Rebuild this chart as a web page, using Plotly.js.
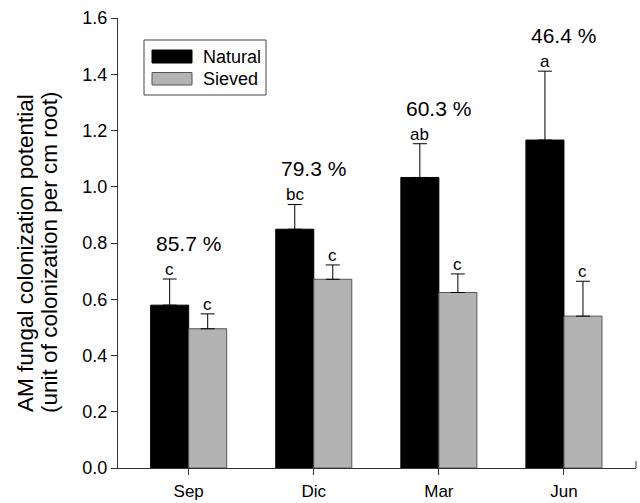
<!DOCTYPE html>
<html>
<head>
<meta charset="utf-8">
<script src="https://cdn.plot.ly/plotly-3.0.1.min.js"></script>
<style>
html,body{margin:0;padding:0;background:#fff;}
#chart{width:640px;height:503px;}
</style>
</head>
<body>
<div id="chart"></div>
<script>
// ---- data ----
const months = ['Sep', 'Dic', 'Mar', 'Jun'];
const seriesNames = ['Natural', 'Sieved'];
const natural = [0.579, 0.849, 1.033, 1.166];
const naturalErr = [0.093, 0.088, 0.120, 0.245];
const sieved = [0.495, 0.671, 0.624, 0.540];
const sievedErr = [0.053, 0.051, 0.066, 0.124];
const naturalLetters = ['c', 'bc', 'ab', 'a'];
const sievedLetters = ['c', 'c', 'c', 'c'];
const percents = ['85.7 %', '79.3 %', '60.3 %', '46.4 %'];
const yTickVals = [0, 0.2, 0.4, 0.6, 0.8, 1.0, 1.2, 1.4, 1.6];
const yTitleLines = ['AM fungal colonization potential', '(unit of colonization per cm root)'];

// ---- style ----
const FONT = 'Liberation Sans, Arial, Helvetica, sans-serif';
const colors = ['#000000', '#b3b3b3'];
const lineColors = ['#000000', '#555555'];
const BARGAP = 0.392;
const half = (1 - BARGAP) / 4; // offset of bar centre from category centre

const traces = [
  {
    type: 'bar', name: seriesNames[0], x: months, y: natural,
    marker: {color: colors[0], line: {color: lineColors[0], width: 1}},
    error_y: {type: 'data', symmetric: false, array: naturalErr, arrayminus: natural.map(() => 0),
              color: '#000', thickness: 1, width: 7},
    showlegend: false, hoverinfo: 'none'
  },
  {
    type: 'bar', name: seriesNames[1], x: months, y: sieved,
    marker: {color: colors[1], line: {color: lineColors[1], width: 1}},
    error_y: {type: 'data', symmetric: false, array: sievedErr, arrayminus: sieved.map(() => 0),
              color: '#000', thickness: 1, width: 7},
    showlegend: false, hoverinfo: 'none'
  }
];

const annotations = [];
months.forEach((m, i) => {
  annotations.push({
    x: i - half, xref: 'x', y: natural[i] + naturalErr[i], yref: 'y',
    text: naturalLetters[i], showarrow: false, yanchor: 'bottom', xanchor: 'center',
    yshift: -2, font: {family: FONT, size: 17, color: '#000'}
  });
  annotations.push({
    x: i + half, xref: 'x', y: sieved[i] + sievedErr[i], yref: 'y',
    text: sievedLetters[i], showarrow: false, yanchor: 'bottom', xanchor: 'center',
    yshift: -2, font: {family: FONT, size: 17, color: '#000'}
  });
  annotations.push({
    x: i, xref: 'x', y: natural[i] + naturalErr[i], yref: 'y',
    text: percents[i], showarrow: false, yanchor: 'bottom', xanchor: 'center',
    yshift: 22, font: {family: FONT, size: 21, color: '#000'}
  });
});

// y-axis title (two rotated lines)
annotations.push({
  x: 0, xref: 'paper', xshift: -92, y: 0.478, yref: 'paper',
  text: yTitleLines[0], textangle: -90, showarrow: false, xanchor: 'center', yanchor: 'middle',
  font: {family: FONT, size: 22.5, color: '#000'}
});
annotations.push({
  x: 0, xref: 'paper', xshift: -68, y: 0.478, yref: 'paper',
  text: yTitleLines[1], textangle: -90, showarrow: false, xanchor: 'center', yanchor: 'middle',
  font: {family: FONT, size: 22.5, color: '#000'}
});

// manual legend
const PW = 518, PH = 450;
const px = v => v / PW, py = v => 1 - v / PH;
const shapes = [
  {type: 'rect', xref: 'paper', yref: 'paper', x0: px(26), x1: px(148), y0: py(22), y1: py(77),
   line: {color: '#444', width: 1}, fillcolor: 'rgba(255,255,255,0)'},
  {type: 'rect', xref: 'paper', yref: 'paper', x0: px(34), x1: px(74), y0: py(32), y1: py(45),
   line: {color: lineColors[0], width: 1}, fillcolor: colors[0]},
  {type: 'rect', xref: 'paper', yref: 'paper', x0: px(34), x1: px(74), y0: py(54.5), y1: py(67),
   line: {color: lineColors[1], width: 1}, fillcolor: colors[1]},
  // small upward tick at the right end of the x axis
  {type: 'line', xref: 'paper', yref: 'paper', x0: 1, x1: 1, y0: 0, y1: 7 / PH,
   line: {color: '#333', width: 1}}
];
annotations.push({
  x: px(83), xref: 'paper', y: py(38.5), yref: 'paper', text: seriesNames[0], showarrow: false,
  xanchor: 'left', yanchor: 'middle', font: {family: FONT, size: 18, color: '#000'}
});
annotations.push({
  x: px(83), xref: 'paper', y: py(61), yref: 'paper', text: seriesNames[1], showarrow: false,
  xanchor: 'left', yanchor: 'middle', font: {family: FONT, size: 18, color: '#000'}
});

const layout = {
  width: 640, height: 503,
  margin: {l: 118, r: 4, t: 18, b: 35, pad: 0},
  paper_bgcolor: '#fff', plot_bgcolor: '#fff',
  barmode: 'group', bargap: BARGAP, bargroupgap: 0,
  font: {family: FONT, size: 18, color: '#000'},
  showlegend: false,
  xaxis: {
    type: 'category', range: [-0.565, 3.576], showgrid: false, zeroline: false,
    showline: true, linecolor: '#333', linewidth: 1,
    ticks: 'outside', ticklen: 6, tickcolor: '#333', tickwidth: 1,
    tickfont: {family: FONT, size: 17, color: '#000'}, ticklabelstandoff: 2
  },
  yaxis: {
    range: [0, 1.6], showgrid: false, zeroline: false,
    showline: true, linecolor: '#333', linewidth: 1,
    ticks: 'outside', ticklen: 6, tickcolor: '#333', tickwidth: 1,
    tickvals: yTickVals, tickformat: '.1f',
    tickfont: {family: FONT, size: 18, color: '#000'}
  },
  annotations: annotations,
  shapes: shapes
};

Plotly.newPlot('chart', traces, layout, {staticPlot: true, displayModeBar: false});
</script>
</body>
</html>
